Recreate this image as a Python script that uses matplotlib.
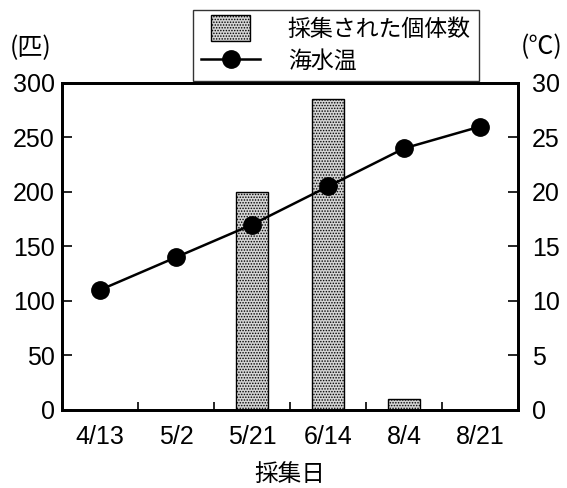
import matplotlib
matplotlib.use("Agg")
import matplotlib.pyplot as plt
import matplotlib.patches as mpatches
from matplotlib.container import BarContainer
from matplotlib.legend_handler import HandlerPatch
import numpy as np

plt.rcParams['font.family'] = ['Liberation Sans', 'Noto Sans CJK JP', 'DejaVu Sans']
plt.rcParams['hatch.color'] = '#7a7a7a'
plt.rcParams['hatch.linewidth'] = 0.7

dates = ["4/13", "5/2", "5/21", "6/14", "8/4", "8/21"]
counts = [0, 0, 200, 285, 10, 0]
water_temp = [11, 14, 17, 20.5, 24, 26]

fig = plt.figure(figsize=(5.67, 4.88), dpi=100)
ax = fig.add_axes([0.109, 0.160, 0.805, 0.670])
ax2 = ax.twinx()

x = np.arange(len(dates))
bars = ax.bar(x, counts, width=0.43, facecolor='#d4d4d4', edgecolor='black',
              linewidth=1.0, hatch='......', label='採集された個体数', zorder=2)
line, = ax2.plot(x, water_temp, color='black', linewidth=1.8, marker='o',
                 markersize=12.5, label='海水温', zorder=3)

ax.set_xlim(-0.5, len(dates) - 0.5)
ax.set_ylim(0, 300)
ax2.set_ylim(0, 30)
ax.set_yticks(np.arange(0, 301, 50))
ax2.set_yticks(np.arange(0, 31, 5))

ax.set_xticks(x)
ax.set_xticklabels(dates)
ax.set_xticks(np.arange(-0.5, len(dates)), minor=True)
ax.tick_params(axis='x', which='major', length=0, labelsize=18, pad=11)
ax.tick_params(axis='x', which='minor', direction='in', length=6, width=1.2)
ax.tick_params(axis='y', direction='in', length=7, width=1.2, labelsize=18, pad=5)
ax2.tick_params(axis='y', direction='in', length=7, width=1.2, labelsize=18, pad=10)

for a in (ax, ax2):
    for s in a.spines.values():
        s.set_linewidth(2.0)

ax.set_xlabel('採集日', fontsize=17, family=['Noto Sans CJK JP'], labelpad=10)

fig.text(0.054, 0.902, '(匹)', fontsize=18, ha='center', va='center',
         family=['Noto Sans CJK JP', 'DejaVu Sans'])
fig.text(0.956, 0.904, '(℃)', fontsize=18, ha='center', va='center',
         family=['Noto Sans CJK JP', 'DejaVu Sans'])


def small_box(legend, orig_handle, xdescent, ydescent, width, height, fontsize):
    # narrower, taller swatch centred in the handle area
    w = width * 0.66
    h = height * 1.3
    return mpatches.Rectangle((-xdescent + (width - w) / 2, -ydescent + (height - h) / 2),
                              w, h)


def copy_style(legend_handle, orig_handle):
    legend_handle.update_from(orig_handle[0])


leg = fig.legend(handles=[bars, line], loc='upper left',
                 bbox_to_anchor=(0.340, 0.980), frameon=True, fancybox=False,
                 edgecolor='black', handlelength=2.6, handleheight=1.0,
                 handletextpad=1.2, borderpad=0.35, labelspacing=0.4,
                 borderaxespad=0.0,
                 handler_map={BarContainer: HandlerPatch(patch_func=small_box,
                                                         update_func=copy_style)},
                 prop={'family': ['Noto Sans CJK JP'], 'size': 16.5})
leg.get_frame().set_linewidth(1.0)

fig.savefig('out.png', dpi=100, facecolor='white')
